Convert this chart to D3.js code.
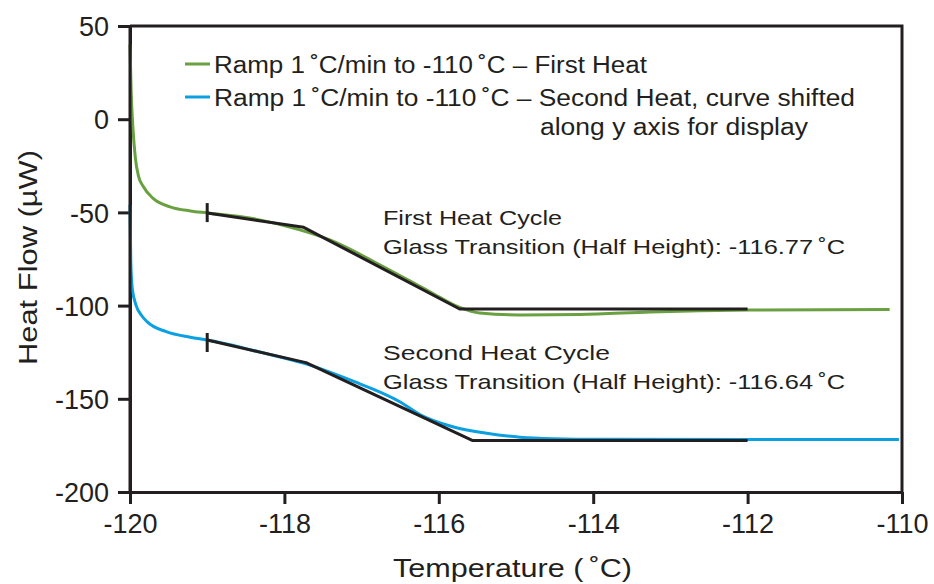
<!DOCTYPE html>
<html>
<head>
<meta charset="utf-8">
<script src="https://cdn.jsdelivr.net/npm/d3@7"></script>
<style>
  body { margin: 0; background: #fff; }
  svg text { font-family: "Liberation Sans", Arial, sans-serif; fill: #231f20; }
</style>
</head>
<body>
<div id="chart"></div>
<script>
// axis ticks
const xTicks = [-120, -118, -116, -114, -112, -110];
const yTicks = [50, 0, -50, -100, -150, -200];

// first heat (green) - temperature / heat flow
const firstHeatT = [-120.0, -119.985, -119.96, -119.93, -119.89, -119.83, -119.70, -119.48, -119.22, -119.0,
  -118.45, -117.80, -117.41, -116.76, -116.11, -115.73, -115.47, -114.95, -114.17, -113.26, -111.97, -110.16];
const firstHeatFlow = [40, 15.0, -6.0, -21.0, -30.5, -36.0, -42.5, -47.0, -49.2, -50.3,
  -53.0, -59.4, -64.8, -78.2, -92.7, -101.0, -104.0, -105.0, -104.8, -103.4, -102.4, -102.1];

// second heat (blue), shifted for display
const secondHeatT = [-120.0, -119.99, -119.97, -119.92, -119.85, -119.78, -119.53, -119.22, -119.0, -118.32,
  -117.72, -117.15, -116.50, -116.24, -115.82, -115.38, -114.95, -114.52, -113.91, -110.04];
const secondHeatFlow = [-46, -76, -91.0, -100.0, -105.3, -108.6, -114.0, -117.0, -118.5, -124.9,
  -131.3, -139.9, -151.7, -158.6, -165.0, -168.5, -170.6, -171.4, -171.7, -171.8];

// glass transition construction lines (black)
const firstOnsetT = [-119, -117.75, -115.73, -112];
const firstOnsetFlow = [-50.3, -58.0, -101.8, -101.8];
const secondOnsetT = [-119, -117.72, -115.56, -112];
const secondOnsetFlow = [-118.5, -130.6, -172.4, -172.4];

// small vertical markers at the onset start
const markerT = -119;
const firstMarkerFlow = [-45.0, -55.2];
const secondMarkerFlow = [-114.7, -124.9];

const legendLabels = [
  "Ramp 1\u2009˚C/min to -110\u2009˚C – First Heat",
  "Ramp 1\u2009˚C/min to -110\u2009˚C – Second Heat, curve shifted"
];
const legendExtra = "along y axis for display";
const firstNote = ["First Heat Cycle", "Glass Transition (Half Height): -116.77\u2009˚C"];
const secondNote = ["Second Heat Cycle", "Glass Transition (Half Height): -116.64\u2009˚C"];

const green = "#69a040";
const blue = "#0aa0e2";
const ink = "#231f20";

const width = 934, height = 584;
const margin = { top: 26, right: 32, bottom: 92, left: 130 };
const innerW = width - margin.left - margin.right;
const innerH = height - margin.top - margin.bottom;

const svg = d3.select("#chart").append("svg")
  .attr("width", width)
  .attr("height", height);

const g = svg.append("g")
  .attr("transform", `translate(${margin.left}, ${margin.top})`);

const x = d3.scaleLinear().domain([-120, -110]).range([0, innerW]);
const y = d3.scaleLinear().domain([-200, 50]).range([innerH, 0]);

// fits a text element to a target width
function fit(sel, w) {
  sel.attr("textLength", w).attr("lengthAdjust", "spacingAndGlyphs");
  return sel;
}

// frame (top and right)
g.append("path")
  .attr("d", `M0,0H${innerW}V${innerH}`)
  .attr("fill", "none")
  .attr("stroke", ink)
  .attr("stroke-width", 3);

const plain = d => String(d);
const xAxis = d3.axisBottom(x).tickValues(xTicks).tickFormat(plain)
  .tickSize(12).tickPadding(9).tickSizeOuter(0);
const yAxis = d3.axisLeft(y).tickValues(yTicks).tickFormat(plain)
  .tickSize(12).tickPadding(9).tickSizeOuter(0);

const gx = g.append("g")
  .attr("transform", `translate(0, ${innerH})`)
  .call(xAxis);
const gy = g.append("g").call(yAxis);

[gx, gy].forEach(a => {
  a.select(".domain").attr("stroke", ink).attr("stroke-width", 3);
  a.selectAll(".tick line").attr("stroke", ink).attr("stroke-width", 3);
  a.selectAll(".tick text")
    .attr("fill", ink)
    .style("font-family", '"Liberation Sans", Arial, sans-serif')
    .style("font-size", "27px");
});
gx.selectAll(".tick text").attr("dy", "0.74em");
gy.selectAll(".tick text").attr("dy", "0.36em");

// curves
const toPoints = (ts, vs) => ts.map((t, i) => [t, vs[i]]);
const smooth = d3.line().x(d => x(d[0])).y(d => y(d[1])).curve(d3.curveMonotoneX);
const straight = d3.line().x(d => x(d[0])).y(d => y(d[1]));

g.append("path")
  .datum(toPoints(secondHeatT, secondHeatFlow))
  .attr("d", smooth)
  .attr("fill", "none")
  .attr("stroke", blue)
  .attr("stroke-width", 3);

g.append("path")
  .datum(toPoints(firstHeatT, firstHeatFlow))
  .attr("d", smooth)
  .attr("fill", "none")
  .attr("stroke", green)
  .attr("stroke-width", 3);

[[firstOnsetT, firstOnsetFlow], [secondOnsetT, secondOnsetFlow]].forEach(([ts, vs]) => {
  g.append("path")
    .datum(toPoints(ts, vs))
    .attr("d", straight)
    .attr("fill", "none")
    .attr("stroke", ink)
    .attr("stroke-width", 3)
    .attr("stroke-linejoin", "round");
});

[firstMarkerFlow, secondMarkerFlow].forEach(span => {
  g.append("line")
    .attr("x1", x(markerT)).attr("x2", x(markerT))
    .attr("y1", y(span[0])).attr("y2", y(span[1]))
    .attr("stroke", ink)
    .attr("stroke-width", 3);
});

// redraw the y axis line over the curve starts
g.append("line")
  .attr("x1", 0).attr("x2", 0).attr("y1", 0).attr("y2", innerH)
  .attr("stroke", ink).attr("stroke-width", 3);

// legend
const legend = svg.append("g").attr("transform", "translate(185, 64)");
[green, blue].forEach((c, i) => {
  const row = legend.append("g").attr("transform", `translate(0, ${i * 33})`);
  row.append("line")
    .attr("x1", 0).attr("x2", 25)
    .attr("stroke", c).attr("stroke-width", 3);
  fit(row.append("text")
    .attr("x", 29).attr("y", 9)
    .style("font-size", "23px")
    .text(legendLabels[i]), i === 0 ? 433 : 641);
});
fit(legend.append("text")
  .attr("x", 355).attr("y", 71)
  .style("font-size", "23px")
  .text(legendExtra), 268);

// glass transition notes
const notes = svg.append("g");
[[firstNote, 225], [secondNote, 360]].forEach(([lines, base]) => {
  fit(notes.append("text")
    .attr("x", 383).attr("y", base)
    .style("font-size", "21px")
    .text(lines[0]), lines[0].startsWith("First") ? 179 : 227);
  fit(notes.append("text")
    .attr("x", 383).attr("y", base + 29)
    .style("font-size", "21px")
    .text(lines[1]), 462);
});

// axis titles
fit(svg.append("text")
  .attr("x", 393).attr("y", 577)
  .style("font-size", "26px")
  .text("Temperature (\u2009˚C)"), 239);

fit(svg.append("text")
  .attr("transform", "translate(37, 365) rotate(-90)")
  .style("font-size", "26px")
  .text("Heat Flow  (µW)"), 215);
</script>
</body>
</html>
